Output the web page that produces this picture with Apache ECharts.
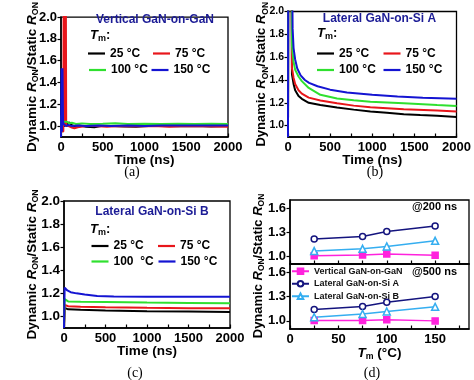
<!DOCTYPE html>
<html><head><meta charset="utf-8">
<script src="https://cdn.jsdelivr.net/npm/echarts@6/dist/echarts.min.js"></script>
<style>html,body{margin:0;padding:0;background:#fff}#c{width:474px;height:380px}</style>
</head><body><div id="c"></div>
<script>
const FONT = '"Liberation Sans", Arial, sans-serif';
const SERIF = '"Liberation Serif", "Times New Roman", serif';

// ---- shared labels / ticks ----
const tempNames = ['25 °C', '75 °C', '100 °C', '150 °C'];
const tempNamesC = ['25 °C', '75 °C', '100  °C', '150 °C'];
const tempColors = ['#000000', '#e8161b', '#2fe02f', '#1414d2'];
const timeLabelTicks = [0, 500, 1000, 1500, 2000];
const timeTicks = [0, 250, 500, 750, 1000, 1250, 1500, 1750, 2000];
const ratioTicksABC = [1.0, 1.2, 1.4, 1.6, 1.8, 2.0];
const ratioTicksD = [1.0, 1.3, 1.6];
const tmLabelTicks = [0, 50, 100, 150];
const tmTicks = [0, 25, 50, 75, 100, 125, 150, 175];
const tmValues = [25, 75, 100, 150];
const deviceNames = ['Vertical GaN-on-GaN', 'Lateral GaN-on-Si A', 'Lateral GaN-on-Si B'];
const panelTitles = ['Vertical GaN-on-GaN', 'Lateral GaN-on-Si A', 'Lateral GaN-on-Si B'];

// ---- (a) Vertical GaN-on-GaN: [time ns, ratio] ----
const aBlack = [[0,0.9],[4,1.25],[10,1.1],[20,1.03],[35,1.0],[55,1.0],[75,1.015],[100,1.035],[125,1.01],[160,1.0],[220,1.005],[300,0.995],[400,0.99],[480,1.0],[600,1.0],[750,0.997],[900,0.995],[1050,1.0],[1200,1.0],[1400,0.998],[1600,1.0],[1800,0.997],[2000,1.0]];
const aRed = [[0,0.95],[28,0.95],[33,2.5],[37,1.0],[41,2.5],[45,1.0],[49,2.5],[53,1.0],[57,2.5],[62,1.0],[70,1.0],[90,1.0],[120,0.99],[160,0.98],[200,0.99],[300,1.0],[400,1.0],[550,0.995],[700,1.0],[900,0.998],[1100,1.0],[1300,0.995],[1500,1.0],[1700,0.998],[2000,0.995]];
const aGreen = [[0,0.92],[8,1.1],[20,1.04],[40,1.03],[70,1.04],[100,1.025],[130,1.03],[180,1.02],[250,1.025],[350,1.02],[500,1.022],[650,1.025],[800,1.02],[1000,1.022],[1200,1.02],[1400,1.022],[1600,1.02],[1800,1.022],[2000,1.02]];
const aBlue = [[0,0.9],[6,1.53],[12,0.95],[18,1.53],[24,1.05],[30,1.02],[40,1.03],[60,1.0],[90,1.01],[130,1.0],[200,1.005],[300,1.0],[450,1.005],[600,1.0],[800,1.005],[1000,1.0],[1200,1.005],[1400,1.005],[1600,1.005],[1800,1.005],[2000,1.006]];

// ---- (b) Lateral GaN-on-Si A ----
const bBlack = [[0,0.9],[4,2.6],[40,2.6],[47,1.45],[66,1.365],[85,1.31],[125,1.26],[164,1.235],[246,1.2],[384,1.18],[582,1.158],[780,1.14],[978,1.124],[1174,1.112],[1374,1.1],[1570,1.093],[1770,1.086],[2000,1.076]];
const bRed = [[0,0.9],[4,2.6],[40,2.6],[47,1.505],[66,1.42],[85,1.365],[125,1.31],[164,1.28],[246,1.245],[384,1.22],[582,1.195],[780,1.175],[978,1.16],[1374,1.144],[1770,1.132],[2000,1.124]];
const bGreen = [[0,0.9],[4,2.6],[40,2.6],[47,1.7],[66,1.56],[85,1.49],[125,1.43],[164,1.39],[246,1.33],[384,1.27],[582,1.237],[780,1.222],[978,1.21],[1374,1.195],[1770,1.18],[2000,1.172]];
const bBlue = [[0,0.9],[3,2.6],[45,2.6],[55,1.85],[66,1.68],[85,1.58],[110,1.5],[150,1.44],[200,1.4],[250,1.375],[350,1.345],[500,1.315],[700,1.29],[1000,1.27],[1300,1.255],[1600,1.245],[2000,1.235]];

// ---- (c) Lateral GaN-on-Si B ----
const cBlack = [[0,0.9],[8,1.075],[20,1.065],[50,1.062],[200,1.058],[500,1.052],[1000,1.046],[1500,1.042],[2000,1.038]];
const cRed = [[0,0.9],[8,1.1],[20,1.09],[50,1.088],[200,1.085],[500,1.08],[1000,1.075],[1500,1.072],[2000,1.07]];
const cGreen = [[0,0.9],[8,1.15],[20,1.135],[50,1.13],[200,1.128],[500,1.125],[1000,1.12],[1500,1.117],[2000,1.114]];
const cBlue = [[0,0.9],[8,1.25],[20,1.245],[40,1.225],[80,1.21],[150,1.2],[250,1.19],[400,1.178],[600,1.172],[1000,1.17],[1500,1.17],[2000,1.17]];

// ---- (d) ratio vs Tm ----
const vert200 = [1.004, 1.012, 1.025, 1.008];
const latA200 = [1.214, 1.243, 1.305, 1.374];
const latB200 = [1.062, 1.09, 1.12, 1.19];
const vert500 = [1.005, 1.005, 1.013, 1.0];
const latA500 = [1.14, 1.177, 1.23, 1.30];
const latB500 = [1.045, 1.086, 1.115, 1.173];
const dColors = ['#ff22dd', '#14147e', '#35aef0'];

// ================= build =================
const black = '#000';
const subRich = (fs) => ({
  n: {fontFamily: FONT, fontWeight: 'bold', fontSize: fs, color: black, lineHeight: 16, verticalAlign: 'middle'},
  i: {fontFamily: FONT, fontWeight: 'bold', fontStyle: 'italic', fontSize: fs, color: black, lineHeight: 16, verticalAlign: 'middle'},
  s: {fontFamily: FONT, fontWeight: 'bold', fontSize: fs * 0.65, color: black, lineHeight: 16, verticalAlign: 'bottom'}
});
const yTitle = '{n|Dynamic }{i|R}{s|ON}{n|/Static }{i|R}{s|ON}';

const grids = [
  {left: 61, top: 8, width: 167, height: 129},
  {left: 288, top: 8, width: 168.5, height: 129},
  {left: 64, top: 201, width: 166, height: 127},
  {left: 290, top: 200, width: 179, height: 64},
  {left: 290, top: 264, width: 179, height: 65}
].map(g => Object.assign({show: true, borderColor: black, borderWidth: 1.3, backgroundColor: 'transparent', containLabel: false}, g));

const axisLine = {show: true, onZero: false, lineStyle: {color: black, width: 1.5}};

function timeAxis(gi) {
  return {
    type: 'value', gridIndex: gi, min: 0, max: 2000,
    axisLine,
    axisTick: {show: true, inside: true, length: 3.5, customValues: timeTicks, lineStyle: {color: black, width: 1.2}},
    axisLabel: {customValues: timeLabelTicks, formatter: v => String(v), color: black, fontFamily: FONT, fontWeight: 'bold', fontSize: 13, margin: 4},
    splitLine: {show: false},
    name: 'Time (ns)', nameLocation: 'middle', nameGap: 16.5, nameMoveOverlap: false,
    nameTextStyle: {color: black, fontFamily: FONT, fontWeight: 'bold', fontSize: 13.5, verticalAlign: 'top'}
  };
}
function ratioAxis(gi, fs, gap, nameFs) {
  return {
    type: 'value', gridIndex: gi, min: 0.9, max: 2.0,
    axisLine,
    axisTick: {show: true, inside: false, length: 3.5, customValues: ratioTicksABC, lineStyle: {color: black, width: 1.2}},
    axisLabel: {customValues: ratioTicksABC, formatter: v => v.toFixed(1), color: black, fontFamily: FONT, fontWeight: 'bold', fontSize: fs, margin: 4},
    splitLine: {show: false},
    name: yTitle, nameLocation: 'middle', nameGap: gap, nameRotate: 90, nameMoveOverlap: false,
    nameTextStyle: {rich: subRich(nameFs)}
  };
}
function tmAxis(gi, showLabels) {
  const ax = {
    type: 'value', gridIndex: gi, min: 0, max: 185,
    axisLine,
    axisTick: {show: true, inside: true, length: 3.5, customValues: tmTicks, lineStyle: {color: black, width: 1.2}},
    axisLabel: {show: showLabels, customValues: tmLabelTicks, formatter: v => String(v), color: black, fontFamily: FONT, fontWeight: 'bold', fontSize: 13, margin: 4},
    splitLine: {show: false}
  };
  if (showLabels) {
    ax.name = '{i|T}{s|m}{n| (°C)}';
    ax.nameLocation = 'middle';
    ax.nameGap = 16;
    ax.nameMoveOverlap = false;
    ax.nameTextStyle = {rich: subRich(13.5), verticalAlign: 'top'};
  }
  return ax;
}
function dRatioAxis(gi) {
  return {
    type: 'value', gridIndex: gi, min: 0.9, max: 1.7,
    axisLine,
    axisTick: {show: true, inside: false, length: 3.5, customValues: ratioTicksD, lineStyle: {color: black, width: 1.2}},
    axisLabel: {customValues: ratioTicksD, formatter: v => v.toFixed(1), color: black, fontFamily: FONT, fontWeight: 'bold', fontSize: 13, margin: 4},
    splitLine: {show: false}
  };
}

const xAxis = [timeAxis(0), timeAxis(1), timeAxis(2), tmAxis(3, false), tmAxis(4, true)];
const yAxis = [ratioAxis(0, 13, 21, 13.5), ratioAxis(1, 10.5, 18.5, 13), ratioAxis(2, 13.5, 24, 13.5), dRatioAxis(3), dRatioAxis(4)];

const series = [];
const timeSets = [[aBlack, aRed, aGreen, aBlue], [bBlack, bRed, bGreen, bBlue], [cBlack, cRed, cGreen, cBlue]];
timeSets.forEach((set, p) => {
  set.forEach((data, k) => {
    series.push({
      type: 'line', name: (p === 2 ? tempNamesC : tempNames)[k], xAxisIndex: p, yAxisIndex: p,
      data, symbol: 'none', clip: true, smooth: false,
      lineStyle: {color: tempColors[k], width: 2}, itemStyle: {color: tempColors[k]}, z: 2 + k
    });
  });
});
const dSets = [[vert200, latA200, latB200], [vert500, latA500, latB500]];
const dSymbols = ['rect', 'circle', 'triangle'];
dSets.forEach((set, p) => {
  set.forEach((vals, k) => {
    series.push({
      type: 'line', name: deviceNames[k], xAxisIndex: 3 + p, yAxisIndex: 3 + p,
      data: vals.map((v, j) => [tmValues[j], v]),
      symbol: dSymbols[k], symbolSize: k === 2 ? 7 : 6, showSymbol: true,
      lineStyle: {color: dColors[k], width: 1.5},
      itemStyle: {color: k === 0 ? dColors[k] : '#fff', borderColor: dColors[k], borderWidth: 1.5},
      z: 3
    });
  });
});

// legends
const legends = [];
function legItem(name, left, rowY) {
  legends.push({
    show: true, data: [name], left, top: rowY - 7, padding: 0, selectedMode: false,
    icon: 'rect', itemWidth: 17, itemHeight: 2.2,
    textStyle: {color: black, fontFamily: FONT, fontWeight: 'bold', fontSize: 12, lineHeight: 14}
  });
}
// (a)
legItem(tempNames[0], 88, 53.5); legItem(tempNames[1], 153, 53.5);
legItem(tempNames[2], 89, 70); legItem(tempNames[3], 151.5, 70);
// (b)
legItem(tempNames[0], 317, 53.5); legItem(tempNames[1], 383.5, 53.5);
legItem(tempNames[2], 317, 70); legItem(tempNames[3], 383.5, 70);
// (c)
legItem(tempNamesC[0], 91.5, 246); legItem(tempNamesC[1], 158, 246);
legItem(tempNamesC[2], 91.5, 261.5); legItem(tempNamesC[3], 158.5, 261.5);
// (d)
legends.push({
  show: true, data: deviceNames, orient: 'vertical', left: 291, top: 265, padding: 0, itemGap: 0,
  selectedMode: false, itemWidth: 17, itemHeight: 7,
  textStyle: {color: '#111', fontFamily: FONT, fontWeight: 'bold', fontSize: 9, lineHeight: 12.5}
});

const titleColor = '#1c1c96';
const tmRich = {
  i: {fontFamily: FONT, fontWeight: 'bold', fontStyle: 'italic', fontSize: 13, color: black, lineHeight: 16, verticalAlign: 'middle'},
  s: {fontFamily: FONT, fontWeight: 'bold', fontSize: 9, color: black, lineHeight: 16, verticalAlign: 'bottom'},
  n: {fontFamily: FONT, fontWeight: 'bold', fontSize: 13, color: black, lineHeight: 16, verticalAlign: 'middle'}
};
function txt(x, y, text, extra) {
  return {type: 'text', x, y, silent: true, z: 10, style: Object.assign({text, align: 'center', verticalAlign: 'middle', fill: black, font: 'bold 12px ' + FONT}, extra || {})};
}
const graphic = [
  txt(155, 20, panelTitles[0], {fill: titleColor}),
  txt(379.5, 18.5, panelTitles[1], {fill: titleColor}),
  txt(152, 211.5, panelTitles[2], {fill: titleColor}),
  txt(90, 35, '{i|T}{s|m}{n|:}', {align: 'left', rich: tmRich}),
  txt(317, 33, '{i|T}{s|m}{n|:}', {align: 'left', rich: tmRich}),
  txt(90, 229, '{i|T}{s|m}{n|:}', {align: 'left', rich: tmRich}),
  txt(457, 207, '@200 ns', {align: 'right', font: 'bold 11px ' + FONT}),
  txt(457, 272, '@500 ns', {align: 'right', font: 'bold 11px ' + FONT}),
  Object.assign(txt(258, 266, yTitle, {rich: subRich(13)}), {rotation: Math.PI / 2}),
  txt(132, 172, '(a)', {font: '14px ' + SERIF}),
  txt(375, 172, '(b)', {font: '14px ' + SERIF}),
  txt(135, 373, '(c)', {font: '14px ' + SERIF}),
  txt(372, 373, '(d)', {font: '14px ' + SERIF})
];

const chart = echarts.init(document.getElementById('c'), null, {renderer: 'canvas'});
chart.setOption({
  animation: false,
  backgroundColor: '#fff',
  grid: grids, xAxis, yAxis, series, legend: legends, graphic
});
</script></body></html>
